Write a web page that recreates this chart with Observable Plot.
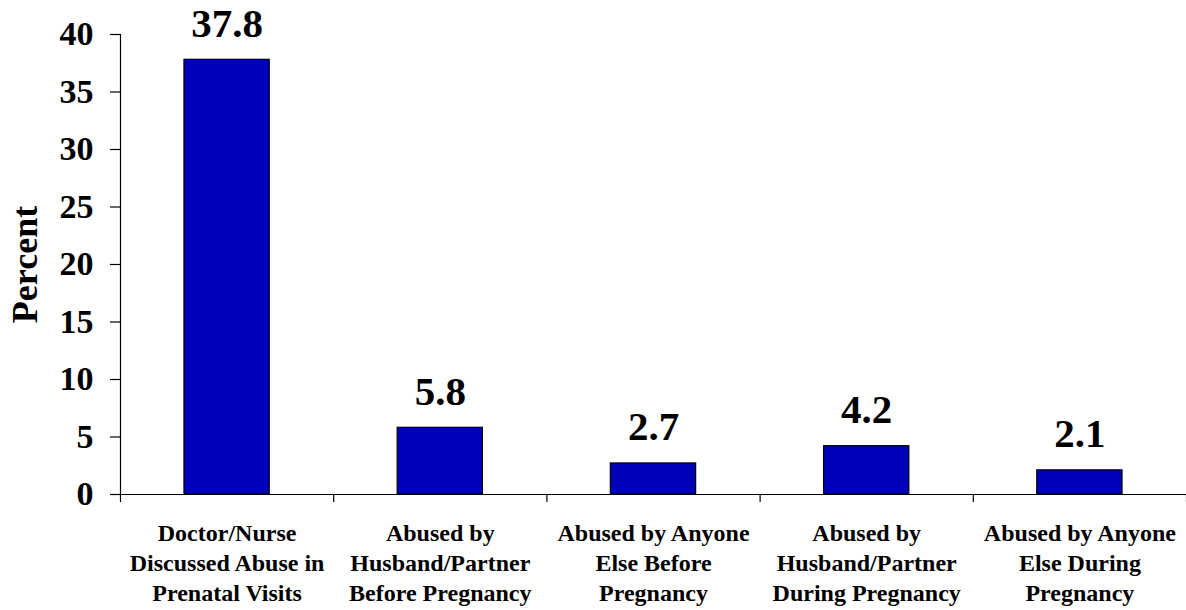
<!DOCTYPE html>
<html>
<head>
<meta charset="utf-8">
<script src="https://cdn.jsdelivr.net/npm/d3@7"></script>
<script src="https://cdn.jsdelivr.net/npm/@observablehq/plot@0.6"></script>
<style>
  html, body { margin: 0; padding: 0; background: #fff; }
  #chart svg { display: block; }
</style>
</head>
<body>
<div id="chart"></div>
<script>
const categories = [
  "Doctor/Nurse\nDiscussed Abuse in\nPrenatal Visits",
  "Abused by\nHusband/Partner\nBefore Pregnancy",
  "Abused by Anyone\nElse Before\nPregnancy",
  "Abused by\nHusband/Partner\nDuring Pregnancy",
  "Abused by Anyone\nElse During\nPregnancy"
];
const values = [37.8, 5.8, 2.7, 4.2, 2.1];
const yTicks = [0, 5, 10, 15, 20, 25, 30, 35, 40];
const yLabel = "Percent";

const data = categories.map((c, i) => ({i, category: c, value: values[i]}));
const font = "'Liberation Serif', 'Times New Roman', serif";

const chart = Plot.plot({
  width: 1186,
  height: 610,
  marginLeft: 120,
  marginRight: 0,
  marginTop: 34,
  marginBottom: 116,
  style: {fontFamily: font, fontWeight: "bold", color: "#000", background: "#fff"},
  x: {type: "linear", domain: [0, categories.length], axis: null},
  y: {type: "linear", domain: [0, 40], axis: null},
  marks: [
    Plot.rectY(data, {
      x1: d => d.i + 0.3, x2: d => d.i + 0.7, y1: 0, y2: "value",
      fill: "#0000BB", stroke: "#000", strokeWidth: 1.2
    }),
    // x axis line
    Plot.ruleY([0], {stroke: "#000", strokeWidth: 1.2}),
    // y axis line
    Plot.ruleX([0], {y1: 0, y2: 40, stroke: "#000", strokeWidth: 1.2}),
    // category boundary ticks (downward)
    Plot.ruleX(d3.range(categories.length + 1), {
      x: d => d, y1: 0, y2: 0, insetBottom: -8, stroke: "#000", strokeWidth: 1.2
    }),
    // y ticks
    Plot.axisY(yTicks, {
      anchor: "left", tickSize: 10, tickPadding: 17, fontSize: 34, fontWeight: "bold",
      stroke: "#000", strokeWidth: 1.2, label: null, tickFormat: d => String(d)
    }),
    // y axis title
    Plot.text([yLabel], {
      frameAnchor: "left", textAnchor: "middle", text: d => d, rotate: -90, dx: -95,
      fontSize: 36, fontWeight: "bold", fill: "#000"
    }),
    // value labels
    Plot.text(data, {
      x: d => d.i + 0.5, y: "value", text: d => d.value.toFixed(1),
      lineAnchor: "bottom", dy: -23, fontSize: 41, fontWeight: "bold", fill: "#000"
    }),
    // category labels
    Plot.text(data, {
      x: d => d.i + 0.5, y: 0, text: "category",
      lineAnchor: "top", dy: 25, lineHeight: 1.25, fontSize: 24, fontWeight: "bold", fill: "#000"
    })
  ]
});
document.getElementById("chart").appendChild(chart);
</script>
</body>
</html>
